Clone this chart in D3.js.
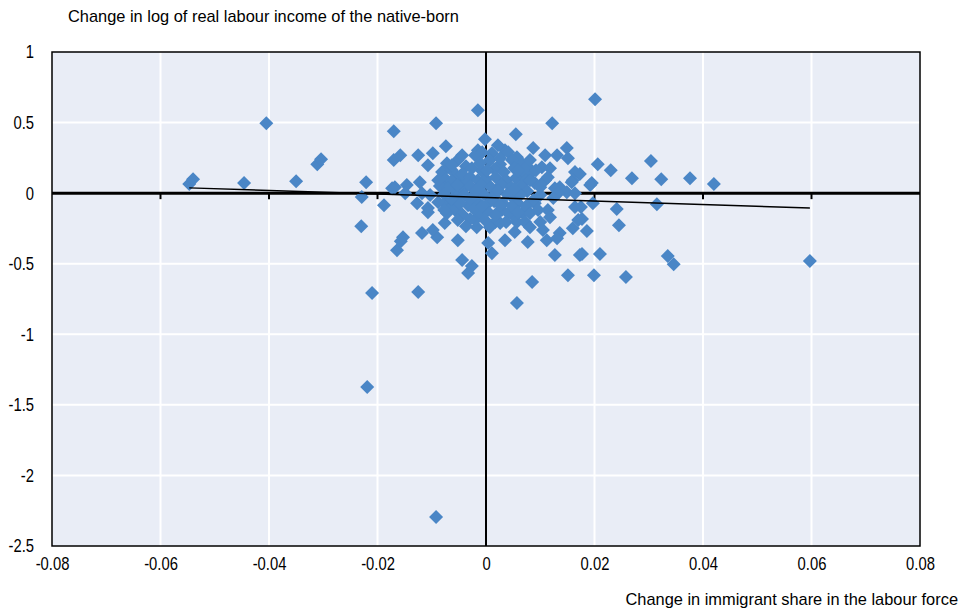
<!DOCTYPE html>
<html>
<head>
<meta charset="utf-8">
<script src="https://cdn.jsdelivr.net/npm/d3@7"></script>
<style>
  body { margin: 0; background: #fff; }
  text { font-family: "Liberation Sans", Arial, sans-serif; font-size: 16.4px; fill: #000; }
</style>
</head>
<body>
<div id="chart"></div>
<script>
// [change in immigrant share, change in log real labour income]
var leftTail = [
  [-0.0547, 0.064], [-0.0540, 0.099], [-0.0446, 0.071], [-0.0405, 0.496], [-0.0350, 0.085],
  [-0.0311, 0.205], [-0.0304, 0.241], [-0.0230, -0.234], [-0.0229, -0.028], [-0.0221, 0.078],
  [-0.0219, -1.374], [-0.0210, -0.708], [-0.0188, -0.085], [-0.0170, 0.439], [-0.0170, 0.234],
  [-0.0164, -0.404], [-0.0157, -0.340], [-0.0153, -0.312], [-0.0125, -0.701], [-0.0092, -2.294],
  [-0.0092, 0.496], [-0.0074, 0.333], [-0.0015, 0.588], [0.0201, 0.666], [0.0122, 0.496],
  [0.0055, 0.418], [-0.0168, 0.042], [-0.0173, 0.035], [-0.0158, 0.269], [-0.0125, 0.269],
  [-0.0146, 0.057], [-0.0122, 0.078], [-0.0103, -0.014], [-0.0127, -0.071], [-0.0107, -0.106]
];
var rightTail = [
  [0.0206, 0.205], [0.0230, 0.163], [0.0195, 0.071], [0.0304, 0.227], [0.0269, 0.106],
  [0.0323, 0.099], [0.0376, 0.106], [0.0420, 0.064], [0.0315, -0.078], [0.0241, -0.113],
  [0.0245, -0.227], [0.0186, -0.269], [0.0177, -0.184], [0.0175, -0.099], [0.0177, -0.432],
  [0.0210, -0.432], [0.0335, -0.446], [0.0346, -0.503], [0.0199, -0.581], [0.0258, -0.595],
  [0.0597, -0.481], [0.0173, 0.135]
];
var upperCluster = [
  [-0.0002, 0.382], [-0.0098, 0.283], [-0.0107, 0.198], [-0.0070, 0.184], [-0.0015, 0.304],
  [-0.0020, 0.269], [0.0011, 0.283], [-0.0118, 0.000], [-0.0052, 0.113], [-0.0039, 0.071],
  [-0.0057, 0.021], [0.0087, 0.319], [0.0109, 0.269], [0.0131, 0.269], [0.0149, 0.319],
  [0.0151, 0.248], [0.0035, 0.304], [0.0022, 0.340], [0.0057, 0.255], [0.0066, 0.212],
  [0.0103, 0.184], [0.0118, 0.177], [0.0164, 0.149], [0.0160, 0.092], [0.0109, 0.092],
  [0.0127, 0.035], [0.0149, 0.007], [0.0085, 0.149], [0.0090, 0.071], [0.0041, 0.290],
  [-0.0007, 0.290], [0.0114, 0.113], [0.0136, 0.042], [0.0158, 0.078]
];
var lowerCluster = [
  [-0.0149, 0.000], [-0.0076, -0.071], [-0.0107, -0.135], [-0.0076, -0.212], [-0.0090, -0.312],
  [-0.0098, -0.262], [-0.0118, -0.283], [-0.0052, -0.333], [-0.0044, -0.474], [-0.0026, -0.517],
  [-0.0033, -0.566], [-0.0017, -0.241], [-0.0020, -0.191], [0.0004, -0.354], [0.0011, -0.425],
  [0.0017, -0.205], [-0.0063, -0.099], [0.0068, -0.142], [0.0077, -0.347], [0.0127, -0.439],
  [0.0173, -0.439], [0.0085, -0.630], [0.0151, -0.581], [0.0160, -0.248], [0.0170, -0.191],
  [0.0164, -0.099], [0.0114, -0.120], [0.0118, -0.170], [0.0100, -0.205], [0.0105, -0.262],
  [0.0112, -0.333], [0.0136, -0.283], [0.0131, -0.319], [0.0053, -0.276], [0.0035, -0.333],
  [0.0026, -0.212], [0.0029, -0.120], [0.0053, -0.170], [0.0090, -0.071], [0.0164, 0.000],
  [0.0133, 0.000], [0.0057, -0.779], [0.0197, -0.071], [0.0192, 0.057], [0.0124, -0.035],
  [0.0087, -0.050], [0.0050, -0.035], [0.0031, -0.071], [0.0022, -0.135], [-0.0011, -0.135],
  [-0.0033, -0.085], [-0.0057, -0.120], [-0.0072, -0.142], [0.0057, -0.205], [0.0007, -0.241]
];
var core = [
  [-0.0072, 0.212], [-0.0052, 0.234], [-0.0037, 0.191], [0.0007, 0.234], [0.0026, 0.205],
  [0.0048, 0.234], [0.0076, 0.191], [-0.0081, 0.149], [-0.0063, 0.163], [-0.0044, 0.135],
  [-0.0026, 0.177], [-0.0007, 0.156], [0.0015, 0.170], [0.0033, 0.149], [0.0052, 0.177],
  [0.0070, 0.135], [0.0092, 0.163], [-0.0074, 0.099], [-0.0063, 0.085], [-0.0029, 0.113],
  [-0.0015, 0.092], [0.0000, 0.099], [0.0018, 0.113], [0.0037, 0.092], [0.0055, 0.106],
  [0.0074, 0.092], [-0.0085, 0.050], [-0.0070, 0.035], [-0.0044, 0.021], [-0.0029, 0.050],
  [-0.0009, 0.057], [0.0009, 0.042], [0.0028, 0.057], [0.0046, 0.042], [0.0065, 0.050],
  [0.0076, 0.014], [-0.0077, -0.007], [-0.0055, -0.028], [-0.0039, -0.014], [-0.0022, -0.014],
  [-0.0004, -0.007], [0.0015, -0.021], [0.0039, -0.007], [0.0063, -0.014], [0.0100, -0.014],
  [-0.0088, -0.064], [-0.0048, -0.071], [-0.0015, -0.064], [0.0004, -0.071], [0.0015, -0.057],
  [0.0059, -0.071], [0.0074, -0.092], [-0.0044, -0.149], [-0.0022, -0.113], [0.0002, -0.127],
  [0.0041, -0.142], [0.0081, -0.142], [-0.0052, -0.191], [-0.0029, -0.184], [-0.0002, -0.191],
  [0.0037, -0.205], [0.0072, -0.205]
];
var coreFill = [
  [-0.0063, 0.198], [-0.0011, 0.212], [0.0059, 0.163], [0.0081, 0.092], [0.0100, 0.042],
  [-0.0052, 0.057], [-0.0018, 0.021], [0.0022, 0.021], [0.0052, 0.028], [-0.0063, -0.042],
  [-0.0029, -0.042], [-0.0007, -0.092], [0.0026, -0.085], [0.0048, -0.092], [0.0096, -0.120],
  [-0.0077, -0.120], [-0.0037, -0.234], [0.0017, -0.156], [0.0059, -0.135], [0.0081, -0.241],
  [-0.0044, 0.269], [0.0026, 0.248], [0.0081, 0.234], [0.0002, 0.163], [-0.0088, 0.092]
];

var xTicks = [-0.08, -0.06, -0.04, -0.02, 0, 0.02, 0.04, 0.06, 0.08];
var yTicks = [1, 0.5, 0, -0.5, -1, -1.5, -2, -2.5];

// fitted line: income = intercept + slope * share
var trendSlope = -1.25;
var trendIntercept = -0.031;
var trendRange = [-0.0547, 0.0597];

var yTitle = "Change in log of real labour income of the native-born";
var xTitle = "Change in immigrant share in the labour force";

var width = 967;
var height = 613;
var plotLeft = 52, plotRight = 920, plotTop = 52, plotBottom = 546;

var points = leftTail.concat(rightTail, upperCluster, lowerCluster, core, coreFill);

var scalex = d3.scaleLinear().domain([-0.08, 0.08]).range([plotLeft, plotRight]);
var scaley = d3.scaleLinear().domain([-2.5, 1]).range([plotBottom, plotTop]);

var svg = d3.select("#chart")
  .append("svg")
  .attr("width", width)
  .attr("height", height);

// plot background
svg.append("rect")
  .attr("x", plotLeft).attr("y", plotTop)
  .attr("width", plotRight - plotLeft).attr("height", plotBottom - plotTop)
  .attr("fill", "#e9edf6");

// white gridlines
svg.append("g").selectAll("line")
  .data(xTicks.slice(1, -1))
  .enter().append("line")
  .attr("x1", (d) => scalex(d)).attr("x2", (d) => scalex(d))
  .attr("y1", plotTop).attr("y2", plotBottom)
  .attr("stroke", "#fff").attr("stroke-width", 2);
svg.append("g").selectAll("line")
  .data(yTicks.slice(1, -1))
  .enter().append("line")
  .attr("y1", (d) => scaley(d)).attr("y2", (d) => scaley(d))
  .attr("x1", plotLeft).attr("x2", plotRight)
  .attr("stroke", "#fff").attr("stroke-width", 2);

// zero lines, with small ticks hanging under the horizontal one
svg.append("line")
  .attr("x1", scalex(0)).attr("x2", scalex(0))
  .attr("y1", plotTop).attr("y2", plotBottom)
  .attr("stroke", "#000").attr("stroke-width", 2);
svg.append("line")
  .attr("x1", plotLeft).attr("x2", plotRight)
  .attr("y1", scaley(0)).attr("y2", scaley(0))
  .attr("stroke", "#000").attr("stroke-width", 3);
svg.append("g").selectAll("line")
  .data(xTicks.slice(1, -1))
  .enter().append("line")
  .attr("x1", (d) => scalex(d)).attr("x2", (d) => scalex(d))
  .attr("y1", scaley(0)).attr("y2", scaley(0) + 6)
  .attr("stroke", "#000").attr("stroke-width", 2);

// diamonds
var r = 7;
svg.append("g").selectAll("path")
  .data(points)
  .enter().append("path")
  .attr("transform", (d) => "translate(" + scalex(d[0]) + "," + scaley(d[1]) + ")")
  .attr("d", "M0," + -r + "L" + r + ",0L0," + r + "L" + -r + ",0Z")
  .attr("fill", "#4a86c6");

// trend line
svg.append("line")
  .attr("x1", scalex(trendRange[0]))
  .attr("y1", scaley(trendIntercept + trendSlope * trendRange[0]))
  .attr("x2", scalex(trendRange[1]))
  .attr("y2", scaley(trendIntercept + trendSlope * trendRange[1]))
  .attr("stroke", "#000").attr("stroke-width", 1.4);

// frame
svg.append("rect")
  .attr("x", plotLeft).attr("y", plotTop)
  .attr("width", plotRight - plotLeft).attr("height", plotBottom - plotTop)
  .attr("fill", "none").attr("stroke", "#000").attr("stroke-width", 1.5);

// axes (labels only), squeezed to look like a condensed face
var yaxis = d3.axisLeft(scaley).tickValues(yTicks).tickSize(0).tickPadding(22.5).tickFormat((d) => String(d));
var xaxis = d3.axisBottom(scalex).tickValues(xTicks).tickSize(0).tickPadding(11).tickFormat((d) => String(d));

svg.append("g").attr("transform", "translate(" + plotLeft + ",0)").call(yaxis)
  .call((g) => g.select(".domain").remove());
svg.append("g").attr("transform", "translate(0," + plotBottom + ")").call(xaxis)
  .call((g) => g.select(".domain").remove());
svg.selectAll(".tick text")
  .style("font-family", "'Liberation Sans', Arial, sans-serif")
  .style("font-size", "18.5px")
  .attr("fill", "#000")
  .attr("transform", "scale(0.8,1)");

// titles
svg.append("text")
  .attr("x", 68).attr("y", 22)
  .text(yTitle);
svg.append("text")
  .attr("x", 958).attr("y", 605)
  .style("text-anchor", "end")
  .text(xTitle);
</script>
</body>
</html>
